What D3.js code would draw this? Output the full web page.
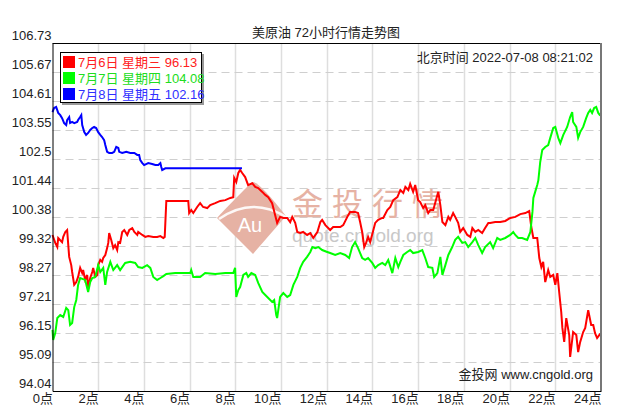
<!DOCTYPE html>
<html>
<head>
<meta charset="utf-8">
<script src="https://cdn.jsdelivr.net/npm/d3@7"></script>
<style>
  html, body { margin: 0; padding: 0; background: #fff; }
  svg { display: block; }
  text { font-family: "Liberation Sans", Arial, "Noto Sans CJK SC", sans-serif; }
</style>
</head>
<body>
<svg id="chart" width="626" height="413"></svg>
<script>
// ---------------- DATA ----------------
const chartTitle = "美原油 72小时行情走势图";
const timeStamp = "北京时间 2022-07-08 08:21:02";
const footerText = "金投网 www.cngold.org";

const xTicks = [0, 2, 4, 6, 8, 10, 12, 14, 16, 18, 20, 22, 24];
const xTickLabels = ["0点", "2点", "4点", "6点", "8点", "10点", "12点", "14点", "16点", "18点", "20点", "22点", "24点"];
const yTicks = [94.04, 95.0975, 96.155, 97.2125, 98.27, 99.3275, 100.385, 101.4425, 102.5, 103.5575, 104.615, 105.6725, 106.73];
const yTickLabels = ["94.04", "95.09", "96.15", "97.21", "98.27", "99.32", "100.38", "101.44", "102.5", "103.55", "104.61", "105.67", "106.73"];

const seriesNames = ["7月6日 星期三", "7月7日 星期四", "7月8日 星期五"];
const seriesLast = ["96.13", "104.08", "102.16"];

// 7月6日 (red): hours, values
const redHours = [0.00,0.12,0.21,0.25,0.42,0.47,0.56,0.64,0.69,0.73,0.82,0.86,0.95,1.04,1.12,1.21,1.30,1.34,1.43,1.52,1.56,1.65,1.74,1.78,1.87,1.96,2.00,2.09,2.17,2.22,2.31,2.39,2.44,2.48,2.57,2.66,2.74,2.83,2.88,2.96,3.05,3.14,3.27,3.36,3.49,3.58,3.71,3.75,3.93,4.06,4.19,4.41,4.58,4.72,4.85,4.91,4.98,5.94,5.98,6.07,6.16,6.33,6.46,6.59,6.77,6.90,7.12,7.34,7.56,7.78,7.91,7.95,8.04,8.13,8.21,8.30,8.43,8.56,8.74,8.87,9.00,9.18,9.31,9.44,9.61,9.74,9.83,9.96,10.10,10.27,10.40,10.49,10.62,10.71,10.84,10.97,11.14,11.28,11.41,11.59,11.72,11.80,11.94,12.15,12.28,12.46,12.59,12.72,12.90,13.02,13.24,13.37,13.46,13.55,13.64,13.72,13.81,13.90,14.04,14.12,14.25,14.43,14.47,14.65,14.78,14.91,15.09,15.22,15.35,15.44,15.57,15.65,15.78,15.87,16.00,16.09,16.22,16.31,16.44,16.53,16.66,16.84,16.88,16.97,17.06,17.19,17.32,17.40,17.53,17.62,17.75,17.84,17.97,18.15,18.28,18.37,18.50,18.63,18.80,18.93,19.07,19.15,19.37,19.59,19.81,20.03,20.25,20.47,20.69,20.86,20.95,21.04,21.21,21.30,21.39,21.47,21.56,21.69,21.78,21.91,22.00,22.09,22.17,22.26,22.31,22.39,22.48,22.61,22.65,22.78,22.92,23.00,23.09,23.22,23.31,23.44,23.57,23.66,23.74,23.83,23.97];
const redValues = [99.73,99.44,99.29,99.62,99.47,99.66,99.84,99.91,99.36,98.93,98.63,98.38,97.91,98.01,98.20,98.53,98.34,98.45,98.09,98.27,97.80,98.16,98.38,98.53,98.20,98.27,98.63,98.82,98.75,98.89,99.00,99.25,99.44,99.80,99.55,99.25,99.36,99.18,99.47,99.44,99.84,99.91,99.73,99.91,99.98,99.84,99.73,99.84,99.73,99.66,99.69,99.66,99.66,99.69,99.62,99.66,100.97,100.97,100.53,100.64,100.53,100.75,100.89,100.75,100.71,100.82,100.89,100.97,101.00,101.08,101.11,101.81,101.66,101.99,102.10,101.99,101.84,101.55,101.62,101.48,101.44,101.30,101.19,101.11,100.89,100.46,100.17,100.39,100.35,100.35,100.20,100.39,100.17,99.84,99.80,99.84,99.73,99.80,99.62,99.84,100.20,100.28,100.09,99.91,100.02,100.02,100.02,100.09,100.39,100.57,100.57,100.53,100.20,99.84,99.29,99.44,99.66,99.47,99.91,100.17,100.28,100.35,100.35,100.64,100.75,101.00,101.11,101.37,101.26,101.48,101.37,101.59,101.30,101.55,101.00,100.93,100.71,100.82,100.53,100.64,100.64,101.19,101.30,100.82,100.20,100.09,100.39,100.28,100.53,100.39,100.17,99.84,99.98,99.73,99.66,99.98,99.84,99.91,99.80,99.98,100.17,100.17,100.20,100.20,100.24,100.35,100.39,100.49,100.53,100.60,100.02,99.62,99.62,98.89,98.56,98.75,98.01,98.45,98.20,98.27,97.91,98.34,97.65,96.92,96.34,95.83,96.70,96.08,95.28,96.19,96.08,95.46,95.83,96.19,96.34,96.99,96.45,96.45,96.15,95.97,96.13];

// 7月7日 (green)
const greenHours = [0.00,0.03,0.12,0.21,0.34,0.47,0.60,0.69,0.77,0.86,0.95,1.04,1.12,1.21,1.43,1.56,1.65,1.74,1.87,2.00,2.09,2.22,2.31,2.39,2.53,2.66,2.83,2.96,3.18,3.40,3.62,3.75,3.93,4.14,4.28,4.41,4.58,4.72,4.85,4.98,5.37,6.03,6.07,6.16,6.46,6.68,7.12,7.56,7.91,7.99,8.04,8.13,8.21,8.35,8.48,8.56,8.70,8.87,9.00,9.18,9.31,9.44,9.61,9.70,9.79,9.83,9.96,10.10,10.27,10.40,10.54,10.71,10.84,10.97,11.14,11.28,11.37,11.50,11.63,11.80,12.02,12.15,12.37,12.59,12.81,12.98,13.11,13.24,13.37,13.55,13.68,13.81,13.99,14.12,14.25,14.43,14.56,14.69,14.87,15.00,15.13,15.22,15.35,15.52,15.65,15.78,16.00,16.18,16.31,16.44,16.62,16.70,16.84,16.97,17.06,17.19,17.32,17.49,17.62,17.75,17.93,18.06,18.19,18.37,18.50,18.63,18.80,18.93,19.15,19.28,19.46,19.59,19.81,20.03,20.16,20.25,20.38,20.55,20.77,20.91,21.00,21.04,21.12,21.21,21.26,21.34,21.43,21.56,21.69,21.78,21.91,22.00,22.13,22.22,22.35,22.52,22.65,22.74,22.78,22.92,23.00,23.09,23.22,23.35,23.44,23.53,23.61,23.70,23.79,23.88,23.97];
const greenValues = [96.27,95.90,96.15,96.70,96.81,96.74,97.07,96.99,96.45,96.52,97.10,97.36,97.91,98.16,98.09,97.65,98.01,98.16,98.20,98.63,98.38,98.53,97.91,98.38,98.75,98.45,98.63,98.45,98.71,98.75,98.71,98.56,98.53,98.63,98.53,98.20,98.09,98.16,98.23,98.31,98.34,98.34,98.45,98.20,98.20,98.34,98.31,98.34,98.34,98.53,97.47,97.72,97.83,98.27,98.34,98.20,98.34,98.27,97.98,97.65,97.54,97.43,97.29,97.36,96.81,96.70,97.47,97.61,97.47,97.54,97.91,98.20,98.53,98.75,98.93,99.11,99.29,99.25,99.29,99.18,99.11,99.07,99.00,99.07,99.00,98.89,99.29,99.47,99.25,98.89,98.82,98.89,98.71,98.53,98.63,98.71,98.63,98.82,98.34,98.89,98.56,98.75,99.00,99.11,99.18,99.07,99.11,99.18,98.89,98.56,98.53,98.20,98.34,98.93,98.27,98.63,99.00,99.29,99.55,99.66,99.44,99.47,99.29,99.47,99.62,99.36,99.07,99.29,99.47,99.25,99.62,99.55,99.62,99.73,99.84,99.73,99.62,99.62,99.55,99.84,100.57,101.08,101.30,101.55,101.73,102.39,102.83,102.94,103.01,103.27,103.63,103.67,103.27,103.08,103.38,103.67,104.03,104.21,103.85,103.67,103.27,103.48,103.67,103.99,104.18,104.29,104.18,104.36,104.40,104.18,104.08];

// 7月8日 (blue)
const blueHours = [0.00,0.07,0.16,0.25,0.34,0.42,0.51,0.60,0.64,0.73,0.77,0.86,0.95,1.08,1.12,1.21,1.26,1.30,1.39,1.47,1.56,1.65,1.74,1.82,1.91,2.00,2.09,2.17,2.26,2.31,2.39,2.48,2.61,2.70,2.79,2.88,2.92,3.05,3.23,3.40,3.58,3.71,3.79,3.84,3.93,4.01,4.19,4.36,4.50,4.63,4.72,4.76,4.80,4.94,8.29];
const blueValues = [104.21,104.36,104.40,104.18,104.10,103.99,103.81,103.74,103.92,104.03,103.81,103.85,103.81,103.85,103.92,104.03,104.10,103.74,103.48,103.38,103.45,103.56,103.63,103.67,103.63,103.48,103.38,103.30,103.19,103.01,102.76,102.72,102.72,102.76,102.94,102.90,102.76,102.72,102.76,102.72,102.72,102.65,102.65,102.46,102.35,102.28,102.35,102.32,102.28,102.28,102.35,102.21,102.10,102.16,102.16];

const seriesColors = ["#ff0000", "#00ff00", "#0000ff"];
const legendTextColors = ["#ff2020", "#20dd20", "#3030ff"];

// ---------------- CHART ----------------
const svg = d3.select("#chart");
const plotLeft = 52.5, plotRight = 601, plotTop = 43, plotBottom = 391;

const x = d3.scaleLinear().domain([0, 24]).range([plotLeft, plotRight]);
const y = d3.scaleLinear().domain([94.04, 106.73]).range([plotBottom, plotTop]);

// vertical grid
svg.append("g").selectAll("line").data(xTicks.slice(1, -1)).join("line")
  .attr("x1", d => Math.round(x(d)) + 0.5).attr("x2", d => Math.round(x(d)) + 0.5)
  .attr("y1", plotTop).attr("y2", plotBottom)
  .attr("stroke", "#dedede").attr("stroke-width", 1.5);

// horizontal dashed grid
svg.append("g").selectAll("line").data(yTicks.slice(1, -1)).join("line")
  .attr("x1", plotLeft).attr("x2", plotRight)
  .attr("y1", d => Math.round(y(d)) + 0.5).attr("y2", d => Math.round(y(d)) + 0.5)
  .attr("stroke", "#cfcfcf").attr("stroke-width", 1.2)
  .attr("stroke-dasharray", "8,5");

// watermark
const wm = svg.append("g");
const wcx = 252, wcy = 218;
wm.append("path")
  .attr("d", `M${wcx-35},${wcy} Q${wcx-30},${wcy-6} ${wcx},${wcy-36} Q${wcx+6},${wcy-38} ${wcx+34},${wcy-2} L${wcx+1},${wcy+36} Z`)
  .attr("fill", "#e6b2a4");
wm.append("path")
  .attr("d", `M${wcx-33},${wcy+1} Q${wcx},${wcy-22} ${wcx+34},${wcy-1}`)
  .attr("fill", "none").attr("stroke", "#fff").attr("stroke-width", 2.5).attr("opacity", 0.9);
wm.append("text").attr("x", wcx - 2).attr("y", wcy + 14)
  .attr("text-anchor", "middle").attr("font-size", 20).attr("fill", "#fff").text("Au");
wm.append("text").attr("x", 292).attr("y", 215)
  .attr("font-family", "Noto Sans CJK SC").attr("font-size", 31)
  .attr("letter-spacing", 9).attr("fill", "#e6b2a4").text("金投行情");
wm.append("text").attr("x", 292).attr("y", 242)
  .attr("font-size", 19).attr("fill", "#c8c8c8").text("quote.cngold.org");

// lines
const line = d3.line().x(d => x(d[0])).y(d => y(d[1]));
const seriesData = [
  d3.zip(redHours, redValues),
  d3.zip(greenHours, greenValues),
  d3.zip(blueHours, blueValues)
];
svg.append("g").selectAll("path").data(seriesData).join("path")
  .attr("d", line)
  .attr("fill", "none")
  .attr("stroke", (d, i) => seriesColors[i])
  .attr("stroke-width", 2)
  .attr("stroke-linejoin", "miter");

// frame
svg.append("line").attr("x1", plotLeft).attr("x2", plotRight).attr("y1", plotTop + 0.5).attr("y2", plotTop + 0.5).attr("stroke", "#000");
svg.append("line").attr("x1", plotRight).attr("x2", plotRight).attr("y1", plotTop).attr("y2", plotBottom).attr("stroke", "#777").attr("stroke-width", 2);

// axes
const yAxis = d3.axisLeft(y).tickValues(yTicks).tickSize(0)
  .tickFormat((d, i) => yTickLabels[i]);
const gy = svg.append("g").attr("transform", `translate(${plotLeft},0)`).call(yAxis);
gy.select(".domain").attr("stroke", "#000");
gy.selectAll("text").attr("x", -1).attr("dy", -4)
  .attr("font-size", 13).attr("fill", "#222")
  .attr("font-family", "Liberation Sans, Arial, sans-serif");

const xAxis = d3.axisBottom(x).tickValues(xTicks).tickSize(0)
  .tickFormat((d, i) => xTickLabels[i]);
const gx = svg.append("g").attr("transform", `translate(0,${plotBottom})`).call(xAxis);
gx.select(".domain").attr("stroke", "#000");
gx.selectAll("text").attr("text-anchor", "end").attr("y", 12).attr("dy", 0)
  .attr("font-size", 13).attr("fill", "#222")
  .attr("font-family", "Liberation Sans, Arial, Noto Sans CJK SC, sans-serif");

// title
svg.append("text").attr("x", 326).attr("y", 37).attr("text-anchor", "middle")
  .attr("font-size", 13).attr("fill", "#222").text(chartTitle);

// timestamp
svg.append("text").attr("x", 593).attr("y", 62).attr("text-anchor", "end")
  .attr("font-size", 13).attr("fill", "#222").text(timeStamp);

// footer
svg.append("text").attr("x", 593).attr("y", 379).attr("text-anchor", "end")
  .attr("font-size", 13).attr("fill", "#222").text(footerText);

// legend
const lg = svg.append("g");
lg.append("rect").attr("x", 62).attr("y", 54).attr("width", 142).attr("height", 51).attr("fill", "#999");
lg.append("rect").attr("x", 60.5).attr("y", 52.5).attr("width", 141).attr("height", 50)
  .attr("fill", "#fff").attr("stroke", "#000");
seriesNames.forEach((name, i) => {
  const ry = 56 + i * 16;
  lg.append("rect").attr("x", 63).attr("y", ry).attr("width", 12).attr("height", 12).attr("fill", seriesColors[i]);
  lg.append("text").attr("x", 78).attr("y", ry + 11).attr("font-size", 13)
    .attr("fill", legendTextColors[i]).text(name + " " + seriesLast[i]);
});
</script>
</body>
</html>
